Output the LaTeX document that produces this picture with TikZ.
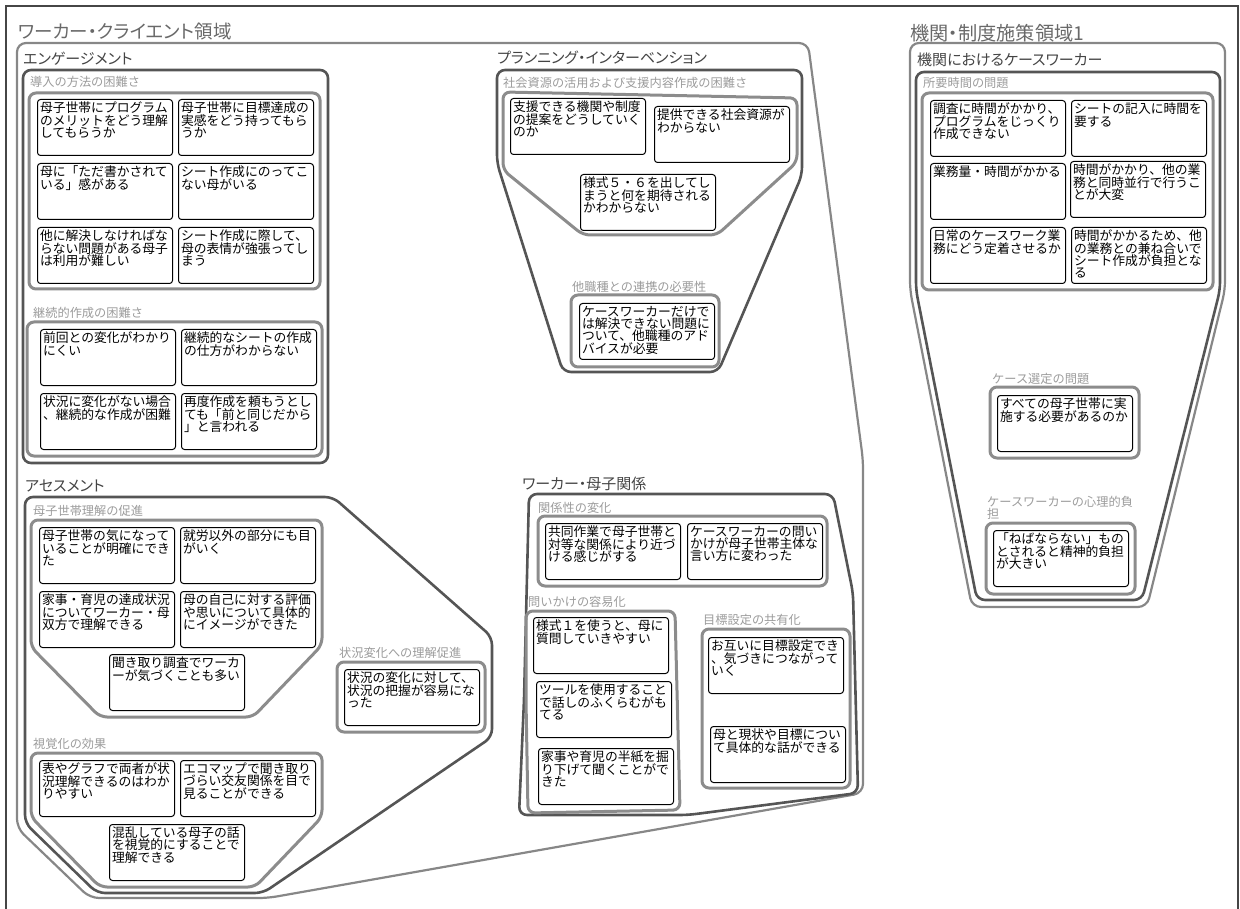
\documentclass[tikz,border=0pt]{standalone}
\usepackage{fontspec}
\setmainfont{Noto Sans CJK JP}
\newfontfamily\palfont[RawFeature=+palt]{Noto Sans CJK JP}
\usepackage{tikz}
\usetikzlibrary{positioning}
\definecolor{framegray}{RGB}{70,70,70}
\definecolor{outergray}{RGB}{135,135,135}
\definecolor{areagray}{RGB}{85,85,85}
\definecolor{grpgray}{RGB}{140,140,140}
\definecolor{labelgray}{RGB}{155,155,155}
\definecolor{titlegray}{RGB}{105,105,105}
\newcommand{\cardtxt}[1]{\parbox[t][51pt][t]{130pt}{\raggedright #1}}

\begin{document}
\begin{tikzpicture}[x=1pt,y=-1pt,
  frameln/.style={draw=framegray,line width=1.2pt},
  outerln/.style={draw=outergray,line width=2.2pt,rounded corners=9pt},
  arealn/.style={draw=areagray,line width=2.6pt,rounded corners=8pt},
  grpln/.style={draw=grpgray,line width=3pt,rounded corners=7pt},
  card/.style={draw=black,line width=1pt,rounded corners=3pt,inner sep=2.5pt,anchor=north west,
    font=\fontsize{12.8}{12.3}\selectfont},
  bigtitle/.style={anchor=west,inner sep=0pt,text=titlegray,font=\palfont\fontsize{18.5}{19}\selectfont},
  areatitle/.style={anchor=west,inner sep=0pt,text=areagray!80!black,font=\palfont\fontsize{15}{16}\selectfont},
  grplabel/.style={anchor=west,inner sep=0pt,text=labelgray,align=left,font=\fontsize{12.2}{12.2}\selectfont}]
  \useasboundingbox (0,0) rectangle (1240,909);
  \draw[frameln] (6,909) -- (6,6) -- (1238,6) -- (1238,909);

  % worker-client domain
  \draw[outerln] (17,400) -- (17,43) -- (808,43) -- (863,460) -- (863,793) -- (268,898) -- (90,898) -- (17,828) -- cycle;
  \node[bigtitle] (wctitle) at (18,32) {ワーカー・クライエント領域};

  % engagement
  \draw[arealn] (23,70) rectangle (328,463);
  \node[areatitle] (engtitle) at (23,59) {エンゲージメント};
  \node[grplabel] (intro) at (30,82) {導入の方法の困難さ};
  \draw[grpln] (29,93) rectangle (320,289);
  \node[card] (e1) at (37,99) {\cardtxt{母子世帯にプログラム\\のメリットをどう理解\\してもらうか}};
  \node[card] (e2) at (178,99) {\cardtxt{母子世帯に目標達成の\\実感をどう持ってもら\\うか}};
  \node[card] (e3) at (37,163) {\cardtxt{母に「ただ書かされて\\いる」感がある}};
  \node[card] (e4) at (178,163) {\cardtxt{シート作成にのってこ\\ない母がいる}};
  \node[card] (e5) at (37,227) {\cardtxt{他に解決しなければな\\らない問題がある母子\\は利用が難しい}};
  \node[card] (e6) at (178,227) {\cardtxt{シート作成に際して、\\母の表情が強張ってし\\まう}};
  \node[grplabel] (cont) at (33,313) {継続的作成の困難さ};
  \draw[grpln] (27,322) rectangle (322,456);
  \node[card] (e7) at (40,329) {\cardtxt{前回との変化がわかり\\にくい}};
  \node[card] (e8) at (181,329) {\cardtxt{継続的なシートの作成\\の仕方がわからない}};
  \node[card] (e9) at (40,393) {\cardtxt{状況に変化がない場合\\、継続的な作成が困難}};
  \node[card] (e10) at (181,393) {\cardtxt{再度作成を頼もうとし\\ても「前と同じだから\\」と言われる}};

  % assessment
  \draw[arealn] (25,600) -- (25,497) -- (333,497) -- (492,637) -- (492,737) -- (263,893) -- (97,893) -- (25,823) -- cycle;
  \node[areatitle] (asstitle) at (25,486) {アセスメント};
  \node[grplabel] (under) at (33,511) {母子世帯理解の促進};
  \draw[grpln] (31,600) -- (31,520) -- (322,520) -- (322,645) -- (253,717) -- (100,717) -- (31,647) -- cycle;
  \node[card] (a1) at (39,527) {\cardtxt{母子世帯の気になって\\いることが明確にでき\\た}};
  \node[card] (a2) at (180,527) {\cardtxt{就労以外の部分にも目\\がいく}};
  \node[card] (a3) at (39,591) {\cardtxt{家事・育児の達成状況\\についてワーカー・母\\双方で理解できる}};
  \node[card] (a4) at (180,591) {\cardtxt{母の自己に対する評価\\や思いについて具体的\\にイメージができた}};
  \node[card] (a5) at (109,654) {\cardtxt{聞き取り調査でワーカ\\ーが気づくことも多い}};
  \node[grplabel] (change) at (339,653) {状況変化への理解促進};
  \draw[grpln] (337,662) rectangle (485,732);
  \node[card] (a6) at (344,669) {\cardtxt{状況の変化に対して、\\状況の把握が容易にな\\った}};
  \node[grplabel] (visual) at (33,744) {視覚化の効果};
  \draw[grpln] (31,800) -- (31,753) -- (322,753) -- (322,817) -- (255,887) -- (100,887) -- (31,817) -- cycle;
  \node[card] (a7) at (39,760) {\cardtxt{表やグラフで両者が状\\況理解できるのはわか\\りやすい}};
  \node[card] (a8) at (180,760) {\cardtxt{エコマップで聞き取り\\づらい交友関係を目で\\見ることができる}};
  \node[card] (a9) at (109,824) {\cardtxt{混乱している母子の話\\を視覚的にすることで\\理解できる}};

  % planning / intervention
  \draw[arealn] (497,120) -- (497,70) -- (802,70) -- (802,175) -- (718,372) -- (563,372) -- (497,163) -- cycle;
  \node[areatitle] (plantitle) at (497,58) {プランニング・インターベンション};
  \node[grplabel] (resrc) at (503,83) {社会資源の活用および支援内容作成の困難さ};
  \draw[grpln] (503,130) -- (503,92) -- (797,98) -- (797,162) -- (717,235) -- (583,235) -- (503,170) -- cycle;
  \node[card] (p1) at (510,98) {\cardtxt{支援できる機関や制度\\の提案をどうしていく\\のか}};
  \node[card] (p2) at (654,106) {\cardtxt{提供できる社会資源が\\わからない}};
  \node[card] (p3) at (580,174) {\cardtxt{様式５・６を出してし\\まうと何を期待される\\かわからない}};
  \node[grplabel] (other) at (572,287) {他職種との連携の必要性};
  \draw[grpln] (571,295) rectangle (719,367);
  \node[card] (p4) at (579,303) {\cardtxt{ケースワーカーだけで\\は解決できない問題に\\ついて、他職種のアド\\バイスが必要}};

  % worker-mother relation
  \draw[arealn] (524,700) -- (529,494) -- (833,494) -- (853,593) -- (858,793) -- (688,815) -- (519,815) -- cycle;
  \node[areatitle] (reltitle) at (522,484) {ワーカー・母子関係};
  \node[grplabel] (relchg) at (538,508) {関係性の変化};
  \draw[grpln] (538,516) rectangle (827,586);
  \node[card] (r1) at (545,523) {\cardtxt{共同作業で母子世帯と\\対等な関係により近づ\\ける感じがする}};
  \node[card] (r2) at (687,523) {\cardtxt{ケースワーカーの問い\\かけが母子世帯主体な\\言い方に変わった}};
  \node[grplabel] (ask) at (528,602) {問いかけの容易化};
  \draw[grpln] (526,700) -- (526,611) -- (675,611) -- (680,810) -- (528,813) -- cycle;
  \node[card] (r3) at (533,617) {\cardtxt{様式１を使うと、母に\\質問していきやすい}};
  \node[card] (r4) at (536,681) {\cardtxt{ツールを使用すること\\で話しのふくらむがも\\てる}};
  \node[card] (r5) at (538,748) {\cardtxt{家事や育児の半紙を掘\\り下げて聞くことがで\\きた}};
  \node[grplabel] (goal) at (703,620) {目標設定の共有化};
  \draw[grpln] (702,629) rectangle (850,788);
  \node[card] (r6) at (708,637) {\cardtxt{お互いに目標設定でき\\、気づきにつながって\\いく}};
  \node[card] (r7) at (710,726) {\cardtxt{母と現状や目標につい\\て具体的な話ができる}};

  % institution domain
  \draw[outerln] (910,150) -- (910,43) -- (1225,43) -- (1225,290) -- (1147,607) -- (972,607) -- (910,290) -- cycle;
  \node[bigtitle,font=\palfont\fontsize{19.2}{20}\selectfont] (insttitle) at (910,33) {機関・制度施策領域1};
  \draw[arealn] (916,150) -- (916,72) -- (1220,72) -- (1220,290) -- (1142,600) -- (977,600) -- (916,290) -- cycle;
  \node[areatitle] (cwtitle) at (917,60) {機関におけるケースワーカー};
  \node[grplabel] (time) at (923,83) {所要時間の問題};
  \draw[grpln] (922,93) rectangle (1213,290);
  \node[card] (k1) at (930,100) {\cardtxt{調査に時間がかかり、\\プログラムをじっくり\\作成できない}};
  \node[card] (k2) at (1071,100) {\cardtxt{シートの記入に時間を\\要する}};
  \node[card] (k3) at (930,163) {\cardtxt{業務量・時間がかかる}};
  \node[card] (k4) at (1070,161) {\cardtxt{時間がかかり、他の業\\務と同時並行で行うこ\\とが大変}};
  \node[card] (k5) at (930,227) {\cardtxt{日常のケースワーク業\\務にどう定着させるか}};
  \node[card] (k6) at (1071,227) {\cardtxt{時間がかかるため、他\\の業務との兼ね合いで\\シート作成が負担とな\\る}};
  \node[grplabel] (select) at (992,379) {ケース選定の問題};
  \draw[grpln] (990,387) rectangle (1139,458);
  \node[card] (k7) at (997,395) {\cardtxt{すべての母子世帯に実\\施する必要があるのか}};
  \node[grplabel] (burden) at (987,508) {ケースワーカーの心理的負\\担};
  \draw[grpln] (986,523) rectangle (1135,594);
  \node[card] (k8) at (993,530) {\cardtxt{「ねばならない」もの\\とされると精神的負担\\が大きい}};
\end{tikzpicture}
\end{document}
